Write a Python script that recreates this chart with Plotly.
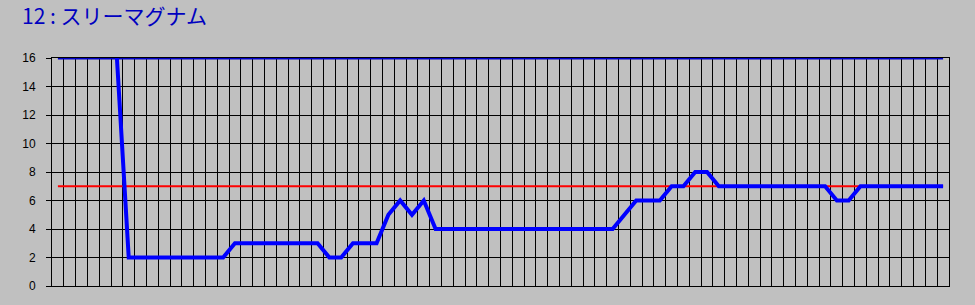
import plotly.graph_objects as go

# ---- data ----
n_points = 76
categories = list(range(n_points))
score = [None, None, None, None, None,
         16, 2, 2, 2, 2, 2, 2, 2, 2, 2,
         3, 3, 3, 3, 3, 3, 3, 3,
         2, 2,
         3, 3, 3,
         5, 6, 5, 6,
         4, 4, 4, 4, 4, 4, 4, 4, 4, 4, 4, 4, 4, 4, 4, 4,
         5, 6, 6, 6,
         7, 7, 8, 8,
         7, 7, 7, 7, 7, 7, 7, 7, 7, 7,
         6, 6,
         7, 7, 7, 7, 7, 7, 7, 7]
average = [7] * n_points
upper = [16] * n_points
title_text = "12 : スリーマグナム"
y_ticks = [0, 2, 4, 6, 8, 10, 12, 14, 16]

fig = go.Figure()
fig.add_trace(go.Scatter(x=categories, y=average, mode="lines",
                         line=dict(color="#ff0000", width=2), hoverinfo="skip"))
fig.add_trace(go.Scatter(x=categories, y=upper, mode="lines",
                         line=dict(color="#0000c8", width=3), hoverinfo="skip"))
fig.add_trace(go.Scatter(x=categories, y=score, mode="lines",
                         line=dict(color="#0000ff", width=4), connectgaps=False))

fig.update_layout(
    width=975, height=305,
    margin=dict(l=52, r=26, t=58, b=19),
    paper_bgcolor="#c0c0c0", plot_bgcolor="#c0c0c0",
    showlegend=False,
)
fig.add_annotation(
    text=title_text, xref="paper", yref="paper",
    x=(20 - 52) / 897, y=1 + (58 - 15) / 228,
    xanchor="left", yanchor="middle", showarrow=False,
    font=dict(family="Noto Sans CJK JP", size=21, color="#0000c0"),
)
fig.update_xaxes(
    range=[-0.5, n_points - 0.5],
    tickmode="array", tickvals=[i - 0.5 for i in range(n_points + 1)],
    showticklabels=False, ticks="",
    showgrid=True, gridcolor="#000000", gridwidth=1,
    showline=True, linecolor="#000000", linewidth=1, mirror=True,
    zeroline=False,
)
fig.update_yaxes(
    range=[0, 16], tickmode="array", tickvals=y_ticks,
    ticks="outside", ticklen=5, tickcolor="#000000", tickwidth=1,
    ticklabelstandoff=8,
    tickfont=dict(family="Liberation Sans, Arial", size=12, color="#000000"),
    showgrid=True, gridcolor="#000000", gridwidth=1,
    showline=True, linecolor="#000000", linewidth=1, mirror=True,
    zeroline=False,
)

fig.write_html("out.html")
